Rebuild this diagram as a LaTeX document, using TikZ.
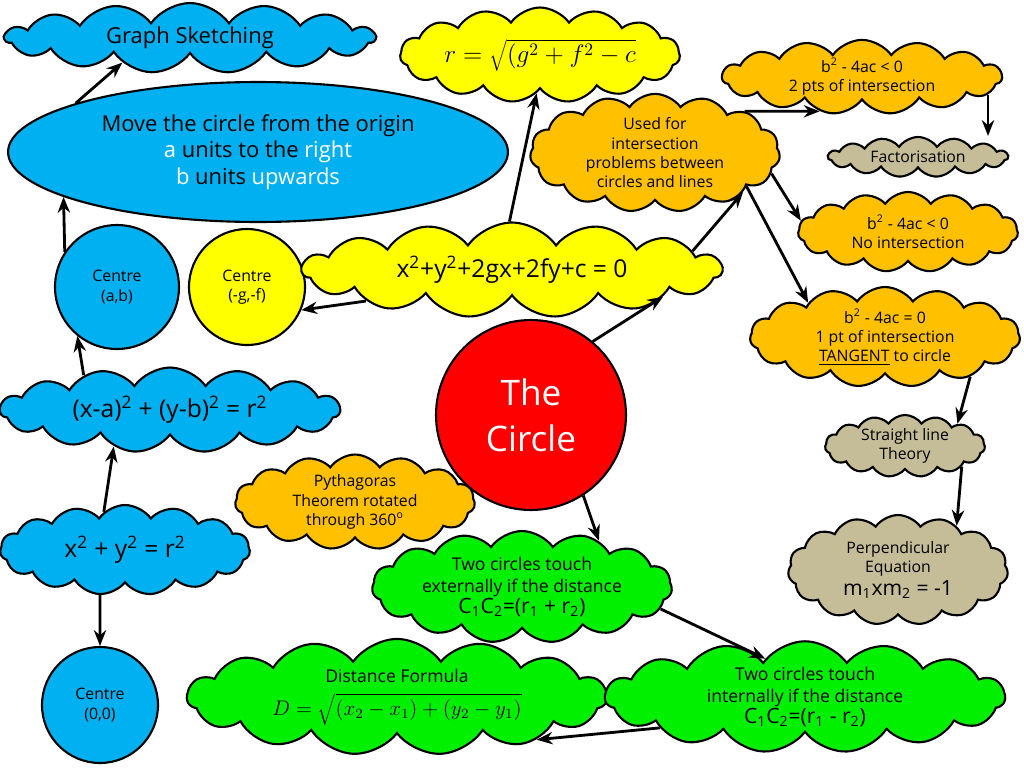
\documentclass[tikz,border=0pt]{standalone}
\usepackage{fontspec}
\setmainfont{Open Sans}
\usetikzlibrary{shapes.symbols,shapes.geometric,arrows.meta}
\definecolor{skyblue}{RGB}{0,176,240}
\definecolor{sunny}{RGB}{255,255,0}
\definecolor{amber}{RGB}{255,192,0}
\definecolor{khaki}{RGB}{196,189,151}
\definecolor{lime}{RGB}{0,240,0}
\tikzset{
  bubble/.style={cloud, cloud puffs=15, cloud puff arc=110, cloud ignores aspect, draw=black, line width=1.2pt, align=center, inner sep=0pt},
  disc/.style={circle, draw=black, line width=1.2pt, align=center, inner sep=0pt},
  arr/.style={-{Stealth[length=9pt,width=7pt]}, line width=1.6pt},
  big/.style={font=\fontsize{12.5}{15}\selectfont},
  small/.style={font=\fontsize{9}{11}\selectfont}
}
\newcommand{\wht}[1]{\textcolor{white}{#1}}
\begin{document}
\begin{tikzpicture}[x=0.02cm,y=-0.02cm]
	\useasboundingbox (0,0) rectangle (1024,768);
	
	% blue side
	\node[bubble, fill=skyblue, big, minimum width=7.4cm, minimum height=1.4cm] (sketch) at (190,38) {Graph Sketching};
	\node[ellipse, draw=black, line width=1.2pt, fill=skyblue, big, align=center, minimum width=10cm, minimum height=2.8cm] (move) at (258,152)
		{Move the circle from the origin\\ \wht{a} units to the \wht{right}\\ \wht{b} units \wht{upwards}};
	\node[disc, fill=skyblue, small, minimum size=2.48cm] (cab) at (117,287) {Centre\\(a,b)};
	\node[disc, fill=sunny, small, minimum size=2.32cm] (cgf) at (247,287) {Centre\\(-g,-f)};
	\node[bubble, fill=skyblue, font=\fontsize{14}{16}\selectfont, minimum width=6.8cm, minimum height=1.7cm] (shifted) at (170,410) {(x-a)\textsuperscript{2} + (y-b)\textsuperscript{2} = r\textsuperscript{2}};
	\node[bubble, fill=skyblue, font=\fontsize{14}{16}\selectfont, minimum width=5cm, minimum height=1.8cm] (origin) at (125,550) {x\textsuperscript{2} + y\textsuperscript{2} = r\textsuperscript{2}};
	\node[disc, fill=skyblue, small, minimum size=2.32cm] (czero) at (100,705) {Centre\\(0,0)};
	
	% yellow and orange
	\node[bubble, fill=sunny, font=\fontsize{14}{16}\selectfont, minimum width=5.6cm, minimum height=1.9cm] (rform) at (540,55) {$r=\sqrt{(g^2+f^2-c}$};
	\node[bubble, fill=sunny, font=\fontsize{14}{16}\selectfont, minimum width=8.4cm, minimum height=1.9cm] (general) at (512,270) {x\textsuperscript{2}+y\textsuperscript{2}+2gx+2fy+c = 0};
	\node[bubble, fill=amber, small, minimum width=5cm, minimum height=2.2cm] (usedfor) at (655,153) {Used for\\intersection\\problems between\\circles and lines};
	\node[bubble, fill=amber, small, minimum width=5.6cm, minimum height=1.4cm] (twopts) at (862,77) {b\textsuperscript{2} - 4ac < 0\\2 pts of intersection};
	\node[bubble, fill=khaki, small, minimum width=3.6cm, minimum height=0.8cm] (factor) at (918,157) {Factorisation};
	\node[bubble, fill=amber, small, minimum width=4.4cm, minimum height=1.6cm] (nopts) at (908,232) {b\textsuperscript{2} - 4ac < 0\\No intersection};
	\node[bubble, fill=amber, small, minimum width=5.4cm, minimum height=2cm] (onept) at (885,337) {b\textsuperscript{2} - 4ac = 0\\1 pt of intersection\\\underline{TANGENT} to circle};
	\node[bubble, fill=amber, small, minimum width=4.8cm, minimum height=1.9cm] (pyth) at (355,502) {Pythagoras\\Theorem rotated\\through 360\textsuperscript{o}};
	
	% centre
	\node[disc, fill=red, text=white, font=\fontsize{20}{26}\selectfont, minimum size=3.8cm] (circle) at (531,415) {The\\Circle};
	
	% tan and green
	\node[bubble, fill=khaki, small, minimum width=3.2cm, minimum height=1.2cm] (straight) at (905,446) {Straight line\\Theory};
	\node[bubble, fill=khaki, small, minimum width=4.4cm, minimum height=2.2cm] (perp) at (898,570) {Perpendicular\\Equation\\[2pt]{\fontsize{12}{14}\selectfont m\textsubscript{1}xm\textsubscript{2} = -1}};
	\node[bubble, fill=lime, font=\fontsize{10}{12}\selectfont, minimum width=6cm, minimum height=2.2cm] (extern) at (522,587) {Two circles touch\\externally if the distance\\{\fontsize{12}{14}\selectfont C\textsubscript{1}C\textsubscript{2}=(r\textsubscript{1} + r\textsubscript{2})}};
	\node[bubble, fill=lime, font=\fontsize{10}{12}\selectfont, minimum width=8.4cm, minimum height=2.2cm] (dist) at (397,697) {Distance Formula\\[5pt]{\fontsize{12}{14}\selectfont $D=\sqrt{(x_2-x_1)+(y_2-y_1)}$}};
	\node[bubble, fill=lime, font=\fontsize{10}{12}\selectfont, minimum width=8cm, minimum height=2.2cm] (intern) at (805,697) {Two circles touch\\internally if the distance\\{\fontsize{12}{14}\selectfont C\textsubscript{1}C\textsubscript{2}=(r\textsubscript{1} - r\textsubscript{2})}};
	
	% arrows
	\draw[arr] (move.165) -- (sketch.200);
	\draw[arr] (general.93) -- (rform.265);
	\draw[arr] (general.6) -- (usedfor.-24);
	\draw[arr] (usedfor.25) -- (twopts.219);
	\draw[arr] (twopts.-8) -- (twopts.-8 |- factor.north);
	\draw[arr] (usedfor.-10) -- (nopts.174);
	\draw[arr] (usedfor.-20) -- (onept.156);
	\draw[arr] (onept.-25) -- (straight.23);
	\draw[arr] (straight.-20) -- (perp.37);
	\draw[arr] (general.192) -- (cgf.-23);
	\draw[arr] (circle.50) -- (general.-10);
	\draw[arr] (cab.146) -- (move.193);
	\draw[arr] (shifted.158) -- (cab.231);
	\draw[arr] (origin.119) -- (shifted.213);
	\draw[arr] (origin.241) -- (czero.north);
	\draw[arr] (circle.-57) -- (extern.31);
	\draw[arr] (extern.-9) -- (intern.136);
	\draw[arr] (intern.192) -- (dist.-17);
\end{tikzpicture}
\end{document}
